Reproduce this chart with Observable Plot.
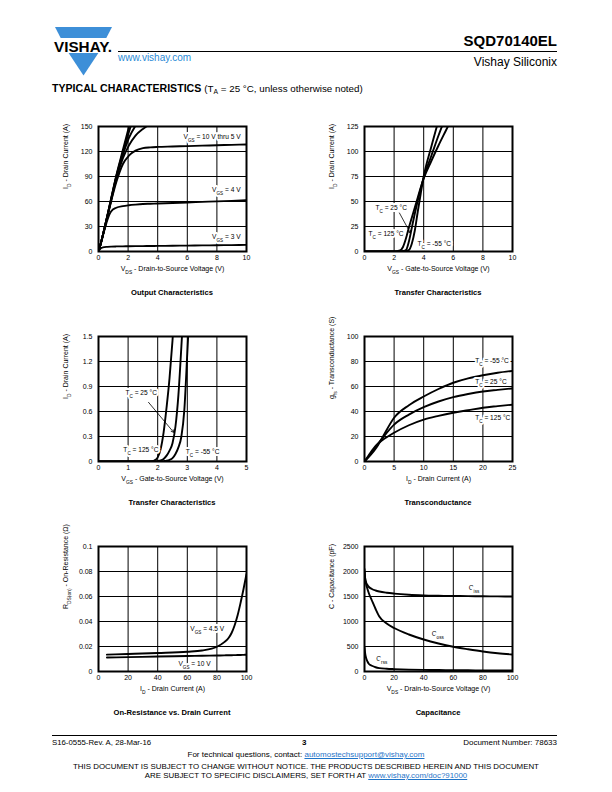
<!DOCTYPE html>
<html><head><meta charset="utf-8">
<script src="https://cdn.jsdelivr.net/npm/d3@7"></script>
<script src="https://cdn.jsdelivr.net/npm/@observablehq/plot@0.6"></script>
<style>
body{margin:0;background:#fff;}
#page{position:relative;width:612px;height:792px;overflow:hidden;font-family:"Liberation Sans",Arial,sans-serif;color:#000;background:#fff;}
.abs{position:absolute;white-space:nowrap;line-height:1;}
.ct{position:absolute;width:220px;text-align:center;font-weight:bold;font-size:7.6px;line-height:1;}
.plot{position:absolute;}
a{color:#1f74c8;}
</style></head><body>
<div id="page">
  <svg class="abs" style="left:50px;top:24px" width="66" height="56" viewBox="50 24 66 56">
    <polygon points="55,27 112,27 106.3,38 60.7,38" fill="#3d8fd8"/>
    <polygon points="68.6,53 98.4,53 83.5,75.5" fill="#3d8fd8"/>
    <text x="54" y="51.5" font-family="Liberation Sans, Arial" font-weight="900" font-size="14.5" textLength="58" lengthAdjust="spacingAndGlyphs">VISHAY.</text>
  </svg>
  <div class="abs" style="left:118px;top:51px;width:439px;height:0;border-top:1px solid #000"></div>
  <div class="abs" style="right:55px;top:33px;font-size:15px;font-weight:bold">SQD70140EL</div>
  <div class="abs" style="right:55px;top:56px;font-size:12px">Vishay Siliconix</div>
  <div class="abs" style="left:118px;top:53px;font-size:10px;color:#2a8ad6">www.vishay.com</div>
  <div class="abs" style="left:52px;top:83px;font-size:10.6px"><b>TYPICAL CHARACTERISTICS</b> <span style="font-size:9.8px">(T<sub style="font-size:6.8px;vertical-align:-2px">A</sub> = 25 °C, unless otherwise noted)</span></div>

  <div id="c1" class="plot"></div><div id="c2" class="plot"></div>
  <div id="c3" class="plot"></div><div id="c4" class="plot"></div>
  <div id="c5" class="plot"></div><div id="c6" class="plot"></div>

  <div class="abs" style="left:52px;top:735px;width:505px;height:0;border-top:1px solid #000"></div>
  <div class="abs" style="left:52px;top:739px;font-size:7.8px">S16-0555-Rev. A, 28-Mar-16</div>
  <div class="abs" style="left:302px;top:739px;font-size:8px;font-weight:bold">3</div>
  <div class="abs" style="right:55px;top:739px;font-size:8px">Document Number: 78633</div>
  <div class="abs" style="left:0;width:612px;text-align:center;top:751px;font-size:8px">For technical questions, contact: <a href="#">automostechsupport@vishay.com</a></div>
  <div class="abs" style="left:0;width:612px;text-align:center;top:763px;font-size:7.9px">THIS DOCUMENT IS SUBJECT TO CHANGE WITHOUT NOTICE. THE PRODUCTS DESCRIBED HEREIN AND THIS DOCUMENT</div>
  <div class="abs" style="left:0;width:612px;text-align:center;top:772px;font-size:7.9px">ARE SUBJECT TO SPECIFIC DISCLAIMERS, SET FORTH AT <a href="#">www.vishay.com/doc?91000</a></div>
</div>
<script>
// ---------- Output characteristics ----------
const outVds = [0, 0.1, 0.3, 0.6, 0.85, 1.2, 1.65, 2.05, 2.5, 3, 3.5, 4, 5, 6, 7, 8, 9, 10];
const outId10 = [0, 6, 20, 43, 63, 91, 122, 149, 178, null, null, null, null, null, null, null, null, null];
const outId8  = [0, 6, 20, 43, 63, 90, 119, 143, 168, null, null, null, null, null, null, null, null, null];
const outId7  = [0, 6, 20, 43, 62, 89, 116, 136, 151, 163, null, null, null, null, null, null, null, null];
const outId6  = [0, 6, 20, 42, 61, 87, 112, 127, 139, 147, 153, null, null, null, null, null, null, null];
const outId5  = [0, 6, 20, 42, 60, 83, 105, 115, 121, 124, 125, 125.5, 126, 126.5, 127, 127.5, 128, 128.5];
const outId4  = [0, 6, 19, 38, 48, 52.5, 54.5, 55.5, 56.3, 57, 57.3, 57.6, 58.2, 58.8, 59.5, 60.2, 60.8, 61.5];
const outId3  = [0, 3, 5, 5.6, 5.9, 6.1, 6.2, 6.3, 6.4, 6.5, 6.6, 6.7, 6.9, 7.1, 7.3, 7.5, 7.7, 7.9];
const outXTicks = [0, 2, 4, 6, 8, 10];
const outYTicks = [0, 30, 60, 90, 120, 150];

// ---------- Transfer characteristics (full) ----------
const trVgs  = [0, 1, 1.8, 2.0, 2.2, 2.4, 2.6, 2.8, 3.0, 3.2, 3.4, 3.6, 3.8, 4.0, 4.5, 5.0, 5.5, 6.0];
const tr125  = [0, 0, 0, 0.05, 0.4, 1.0, 4.5, 13, 24, 34, 44, 54, 64, 73, 90, 106, 121, 136];
const tr25   = [0, 0, 0, 0, 0.01, 0.1, 0.45, 1.4, 10, 24, 38, 51, 63, 74, 95, 116, 135, null];
const trM55  = [0, 0, 0, 0, 0, 0.01, 0.08, 0.33, 1.4, 8, 21, 40, 58, 75, 104, 131, null, null];
const trXTicks = [0, 2, 4, 6, 8, 10];
const trYTicks = [0, 25, 50, 75, 100, 125];

// ---------- Transfer characteristics (low current) ----------
const tlVgs  = [0, 1, 1.6, 1.8, 1.9, 2.0, 2.1, 2.2, 2.3, 2.4, 2.5, 2.6, 2.7, 2.8, 2.9, 3.0, 3.1];
const tl125  = [0, 0, 0, 0.005, 0.015, 0.05, 0.15, 0.35, 0.65, 1.0, 1.45, 2.0, null, null, null, null, null];
const tl25   = [0, 0, 0, 0, 0, 0.005, 0.012, 0.03, 0.07, 0.13, 0.22, 0.42, 0.8, 1.38, 2.0, null, null];
const tlM55  = [0, 0, 0, 0, 0, 0, 0, 0.005, 0.01, 0.02, 0.04, 0.09, 0.17, 0.3, 0.62, 1.3, 2.0];
const tlXTicks = [0, 1, 2, 3, 4, 5];
const tlYTicks = [0, 0.3, 0.6, 0.9, 1.2, 1.5];

// ---------- Transconductance ----------
const gfsId  = [0, 1, 2, 3, 5, 7.5, 10, 12.5, 15, 17.5, 20, 22.5, 25];
const gfsM55 = [0, 5, 11, 19, 35, 45, 52, 58, 63, 66.5, 69, 71, 72.5];
const gfs25  = [0, 6, 12.5, 18.5, 29.5, 37.5, 43.5, 48, 51.5, 54, 56, 57.3, 58.5];
const gfs125 = [0, 7, 13, 17, 23, 29, 33.5, 36.5, 39, 41, 43, 44.3, 45.5];
const gfsXTicks = [0, 5, 10, 15, 20, 25];
const gfsYTicks = [0, 20, 40, 60, 80, 100];

// ---------- On-resistance ----------
const rdsId   = [5.7, 20, 40, 60, 70, 80, 85, 88, 90, 92, 94, 96, 98, 100];
const rds4v5  = [0.0135, 0.014, 0.0148, 0.0158, 0.0168, 0.0198, 0.0235, 0.027, 0.031, 0.037, 0.045, 0.055, 0.066, 0.078];
const rds10   = [0.0112, 0.0115, 0.012, 0.0124, 0.0126, 0.0128, 0.0129, 0.013, 0.013, 0.0131, 0.0132, 0.0132, 0.0133, 0.0134];
const rdsXTicks = [0, 20, 40, 60, 80, 100];
const rdsYTicks = [0, 0.02, 0.04, 0.06, 0.08, 0.1];

// ---------- Capacitance ----------
const capVds = [0, 0.5, 1, 2, 3, 5, 7.5, 10, 15, 20, 30, 40, 50, 60, 70, 80, 90, 100];
const ciss   = [2050, 1850, 1790, 1730, 1690, 1650, 1620, 1600, 1575, 1558, 1535, 1522, 1515, 1510, 1507, 1504, 1502, 1500];
const coss   = [2000, 1850, 1760, 1650, 1560, 1420, 1250, 1100, 960, 870, 740, 640, 560, 495, 445, 400, 365, 340];
const crss   = [480, 350, 280, 200, 150, 115, 85, 68, 55, 48, 38, 32, 29, 26, 24, 22, 21, 20];
const capXTicks = [0, 20, 40, 60, 80, 100];
const capYTicks = [0, 500, 1000, 1500, 2000, 2500];

// ---------- Annotations (data units) ----------
const outNotes = [
  {x: 9.6, y: 138, text: "V_{GS} = 10 V thru 5 V", anchor: "end"},
  {x: 9.6, y: 74, text: "V_{GS} = 4 V", anchor: "end"},
  {x: 9.6, y: 18, text: "V_{GS} = 3 V", anchor: "end"}
];
const trNotes = [
  {x: 0.74, y: 43.5, text: "T_{C} = 25 °C", anchor: "start"},
  {x: 0.27, y: 18, text: "T_{C} = 125 °C", anchor: "start"},
  {x: 3.58, y: 8, text: "T_{C} = -55 °C", anchor: "start"}
];
const trArrows = [{x1: 2.36, y1: 38.5, x2: 3.1, y2: 18.5}];
const tlNotes = [
  {x: 0.91, y: 0.82, text: "T_{C} = 25 °C", anchor: "start"},
  {x: 0.84, y: 0.14, text: "T_{C} = 125 °C", anchor: "start"},
  {x: 2.95, y: 0.12, text: "T_{C} = -55 °C", anchor: "start"}
];
const tlArrows = [{x1: 1.69, y1: 0.71, x2: 2.54, y2: 0.35}];
const gfsNotes = [
  {x: 18.7, y: 80.8, text: "T_{C} = -55 °C", anchor: "start"},
  {x: 18.7, y: 64, text: "T_{C} = 25 °C", anchor: "start"},
  {x: 18.7, y: 35.2, text: "T_{C} = 125 °C", anchor: "start"}
];
const rdsNotes = [
  {x: 62, y: 0.0344, text: "V_{GS} = 4.5 V", anchor: "start"},
  {x: 54, y: 0.0064, text: "V_{GS} = 10 V", anchor: "start"}
];
const capNotes = [
  {x: 70.5, y: 1680, text: "C_{iss}", anchor: "start"},
  {x: 45.5, y: 760, text: "C_{oss}", anchor: "start"},
  {x: 8, y: 260, text: "C_{rss}", anchor: "start"}
];

const rowsOf = (xs, ys) => xs.map((x, i) => ({x, y: ys[i]})).filter(d => d.y != null);

function subify(root) {
  const ns = "http://www.w3.org/2000/svg";
  root.querySelectorAll("text, tspan").forEach(el => {
    if (el.children.length) return;
    const s = el.textContent;
    if (!s.includes("_{")) return;
    el.textContent = "";
    const re = /_\{([^}]*)\}/g;
    let last = 0, m;
    while ((m = re.exec(s))) {
      if (m.index > last) el.appendChild(document.createTextNode(s.slice(last, m.index)));
      const t = document.createElementNS(ns, "tspan");
      t.setAttribute("baseline-shift", "sub");
      t.setAttribute("style", "font-size:70%");
      t.textContent = m[1];
      el.appendChild(t);
      last = re.lastIndex;
    }
    if (last < s.length) el.appendChild(document.createTextNode(s.slice(last)));
  });
}

const ML = 45, MR = 12, MT = 8, MB = 32, FW = 148, FH = 125;

function chart(id, cfg) {
  const {left, top, xDomain, yDomain, xTicks, yTicks, xLabel, yLabel, series, notes, arrows, title} = cfg;
  const fmt = d => `${d}`;
  const marks = [
    Plot.ruleX(xTicks, {stroke: "#000", strokeWidth: 1}),
    Plot.ruleY(yTicks, {stroke: "#000", strokeWidth: 1}),
    ...series.map(s => Plot.line(s, {x: "x", y: "y", curve: "monotone-x", stroke: "#000", strokeWidth: 1.9, clip: true})),
    Plot.text(notes.filter(d => d.anchor === "start"), {x: "x", y: "y", text: "text", textAnchor: "start", fill: "#000", stroke: "#fff", strokeWidth: 4, paintOrder: "stroke", fontSize: 6.6}),
    Plot.text(notes.filter(d => d.anchor === "end"), {x: "x", y: "y", text: "text", textAnchor: "end", fill: "#000", stroke: "#fff", strokeWidth: 4, paintOrder: "stroke", fontSize: 6.6}),
    Plot.frame({stroke: "#000", strokeWidth: 2}),
    Plot.text([xLabel], {frameAnchor: "bottom", dy: 19, text: d => d, fontSize: 7, fill: "#000"}),
    Plot.text([yLabel], {frameAnchor: "left", dx: -33, rotate: -90, text: d => d, fontSize: 7, fill: "#000"})
  ];
  if (arrows) marks.push(Plot.arrow(arrows, {x1: "x1", y1: "y1", x2: "x2", y2: "y2", stroke: "#000", strokeWidth: 0.8, headLength: 5}));
  const svg = Plot.plot({
    width: ML + FW + MR, height: MT + FH + MB,
    marginLeft: ML, marginRight: MR, marginTop: MT, marginBottom: MB,
    style: {fontFamily: "'Liberation Sans', Arial, sans-serif", fontSize: "7px", color: "#000", background: "transparent", overflow: "visible"},
    x: {domain: xDomain, ticks: xTicks, tickSize: 0, tickPadding: 4, tickFormat: fmt, label: null},
    y: {domain: yDomain, ticks: yTicks, tickSize: 0, tickPadding: 6, tickFormat: fmt, label: null},
    marks
  });
  subify(svg);
  const host = document.getElementById(id);
  host.style.left = (left - ML) + "px";
  host.style.top = (top - MT) + "px";
  host.appendChild(svg);
  const t = document.createElement("div");
  t.className = "ct";
  t.textContent = title;
  t.style.left = (left + FW / 2 - 110) + "px";
  t.style.top = (top + 163) + "px";
  document.getElementById("page").appendChild(t);
}

const colL = [98, 364], rowT = [126, 336, 546];

chart("c1", {left: colL[0], top: rowT[0], xDomain: [0, 10], yDomain: [0, 150], xTicks: outXTicks, yTicks: outYTicks,
  xLabel: "V_{DS} - Drain-to-Source Voltage (V)", yLabel: "I_{D} - Drain Current (A)",
  series: [outId10, outId8, outId7, outId6, outId5, outId4, outId3].map(v => rowsOf(outVds, v)),
  notes: outNotes, title: "Output Characteristics"});

chart("c2", {left: colL[1], top: rowT[0], xDomain: [0, 10], yDomain: [0, 125], xTicks: trXTicks, yTicks: trYTicks,
  xLabel: "V_{GS} - Gate-to-Source Voltage (V)", yLabel: "I_{D} - Drain Current (A)",
  series: [tr125, tr25, trM55].map(v => rowsOf(trVgs, v)),
  notes: trNotes, arrows: trArrows, title: "Transfer Characteristics"});

chart("c3", {left: colL[0], top: rowT[1], xDomain: [0, 5], yDomain: [0, 1.5], xTicks: tlXTicks, yTicks: tlYTicks,
  xLabel: "V_{GS} - Gate-to-Source Voltage (V)", yLabel: "I_{D} - Drain Current (A)",
  series: [tl125, tl25, tlM55].map(v => rowsOf(tlVgs, v)),
  notes: tlNotes, arrows: tlArrows, title: "Transfer Characteristics"});

chart("c4", {left: colL[1], top: rowT[1], xDomain: [0, 25], yDomain: [0, 100], xTicks: gfsXTicks, yTicks: gfsYTicks,
  xLabel: "I_{D} - Drain Current (A)", yLabel: "g_{fs} - Transconductance (S)",
  series: [gfsM55, gfs25, gfs125].map(v => rowsOf(gfsId, v)),
  notes: gfsNotes, title: "Transconductance"});

chart("c5", {left: colL[0], top: rowT[2], xDomain: [0, 100], yDomain: [0, 0.1], xTicks: rdsXTicks, yTicks: rdsYTicks,
  xLabel: "I_{D} - Drain Current (A)", yLabel: "R_{DS(on)} - On-Resistance (Ω)",
  series: [rds4v5, rds10].map(v => rowsOf(rdsId, v)),
  notes: rdsNotes, title: "On-Resistance vs. Drain Current"});

chart("c6", {left: colL[1], top: rowT[2], xDomain: [0, 100], yDomain: [0, 2500], xTicks: capXTicks, yTicks: capYTicks,
  xLabel: "V_{DS} - Drain-to-Source Voltage (V)", yLabel: "C - Capacitance (pF)",
  series: [ciss, coss, crss].map(v => rowsOf(capVds, v)),
  notes: capNotes, title: "Capacitance"});
</script>
</body></html>
